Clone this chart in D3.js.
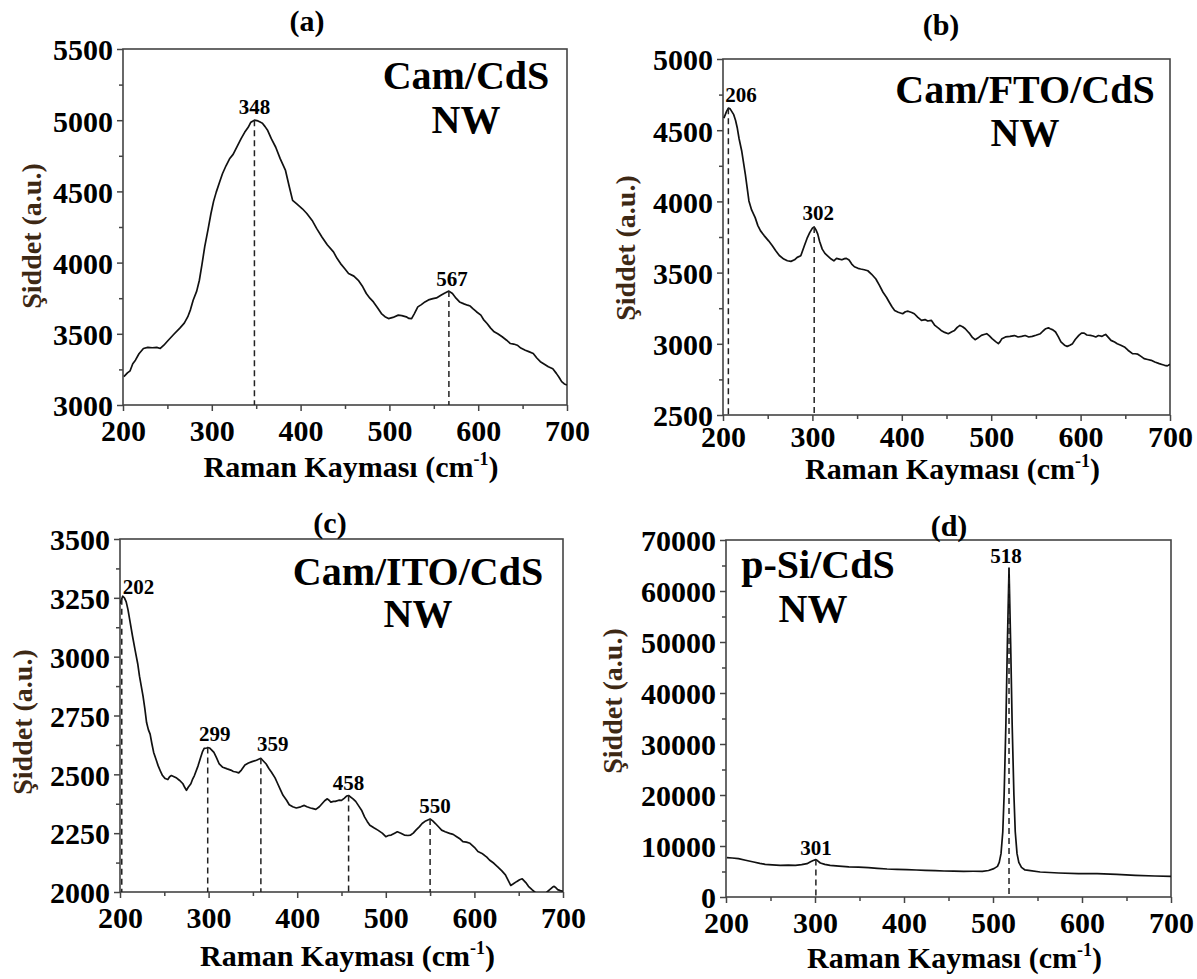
<!DOCTYPE html>
<html>
<head>
<meta charset="utf-8">
<script src="https://cdn.jsdelivr.net/npm/d3@7"></script>
<style>
  body { margin: 0; background: #fff; }
  svg text { font-family: "Liberation Serif", "Times New Roman", Times, serif; font-weight: bold; }
</style>
</head>
<body>
<svg id="fig" width="1197" height="979"></svg>
<script>
// ---------- Raman spectra (shift in cm^-1, intensity in a.u.) ----------
const shiftA = [201,205,208,211,214,218,223,228,233,238,242,246,251,257,264,269,273,276,279,283,286,289,292,296,299,302,305,309,312,316,320,324,329,333,337,341,344,348,352,355,357,360,363,367,372,377,383,387,391,396,402,407,413,418,424,430,437,441,445,450,454,460,465,470,474,478,482,487,491,495,499,504,510,514,519,522,525,528,532,536,540,544,549,553,558,562,567,571,575,579,584,588,591,594,598,603,606,610,614,618,622,627,632,636,640,644,648,653,657,662,666,670,675,679,684,688,691,694,697,700];
const intensityA = [3199,3225,3240,3290,3315,3360,3397,3405,3402,3405,3397,3420,3455,3495,3540,3575,3620,3670,3736,3800,3876,3990,4110,4240,4343,4430,4495,4570,4624,4680,4729,4760,4822,4870,4915,4950,4986,5000,4995,4985,4979,4955,4927,4870,4810,4730,4647,4540,4437,4410,4378,4345,4296,4240,4180,4125,4075,4030,3993,3955,3923,3905,3876,3830,3783,3750,3724,3680,3642,3620,3607,3615,3631,3628,3619,3608,3607,3640,3689,3705,3724,3738,3747,3752,3771,3785,3800,3783,3750,3724,3710,3701,3695,3677,3655,3631,3600,3572,3540,3514,3500,3479,3455,3432,3428,3420,3400,3385,3375,3362,3330,3304,3285,3269,3255,3222,3195,3164,3148,3140];

const shiftB = [201,204,206,208,212,214,216,218,221,225,229,232,236,239,242,246,251,255,259,263,268,272,276,280,283,287,291,294,297,300,302,304,306,308,311,314,317,321,324,327,330,333,336,338,341,344,347,351,354,358,362,366,371,375,379,383,386,389,392,396,401,404,407,411,414,418,422,426,429,433,437,441,444,448,452,456,459,462,465,468,471,474,476,479,482,485,489,492,495,498,501,505,508,510,512,516,521,526,530,534,538,542,546,550,555,558,561,564,566,569,572,575,578,582,585,588,591,594,598,601,604,607,611,614,617,620,624,626,628,631,634,638,641,645,649,653,658,661,664,668,671,675,679,683,688,691,694,697,700];
const intensityB = [4585,4632,4655,4650,4609,4570,4515,4440,4352,4189,4003,3940,3886,3830,3793,3760,3723,3690,3653,3620,3595,3583,3579,3590,3607,3618,3688,3740,3781,3812,3821,3800,3770,3720,3665,3635,3618,3595,3583,3600,3595,3590,3598,3600,3588,3560,3541,3530,3525,3520,3513,3490,3455,3410,3362,3325,3292,3260,3234,3222,3211,3225,3229,3220,3211,3185,3164,3170,3160,3165,3129,3110,3094,3080,3071,3085,3094,3115,3129,3120,3106,3085,3071,3045,3029,3040,3059,3065,3071,3055,3036,3015,3001,3015,3036,3048,3052,3058,3048,3052,3058,3048,3052,3060,3071,3090,3106,3112,3106,3098,3083,3050,3013,2990,2982,2990,3001,3030,3059,3075,3075,3062,3059,3055,3048,3058,3052,3060,3066,3045,3024,3012,3001,2990,2978,2955,2931,2930,2927,2910,2896,2890,2884,2872,2861,2855,2849,2845,2856];

const shiftC = [200,203,205,207,209,211,214,217,220,222,224,226,228,230,232,234,236,238,241,243,246,248,251,254,256,258,261,264,267,271,273,275,277,280,282,284,288,291,293,295,298,299,301,303,306,309,312,316,321,325,328,331,334,337,341,345,349,354,359,361,365,368,371,375,378,381,384,388,391,395,399,404,408,411,415,418,421,425,428,431,434,436,438,441,443,447,450,453,456,458,463,466,469,473,476,479,482,487,491,496,500,503,506,510,513,517,521,525,528,531,534,538,541,545,550,553,556,560,563,567,572,576,580,584,587,591,595,600,604,608,611,614,617,622,626,631,635,638,641,644,648,651,654,658,661,665,668,671,675,679,682,685,688,690,692,694,697,700];
const intensityC = [3225,3257,3250,3233,3200,3156,3090,3029,2970,2917,2875,2832,2780,2720,2690,2671,2630,2593,2560,2537,2510,2495,2482,2478,2490,2495,2490,2484,2475,2460,2445,2432,2445,2460,2480,2495,2535,2572,2595,2610,2612,2614,2612,2605,2593,2570,2544,2530,2523,2518,2512,2510,2506,2518,2540,2548,2554,2560,2568,2560,2544,2525,2509,2485,2460,2435,2411,2390,2371,2362,2357,2362,2368,2362,2357,2354,2351,2362,2375,2388,2396,2390,2382,2385,2385,2390,2389,2398,2408,2410,2396,2385,2368,2345,2319,2300,2284,2272,2263,2250,2235,2240,2242,2250,2256,2250,2242,2240,2242,2250,2263,2278,2291,2302,2310,2302,2291,2275,2263,2256,2249,2245,2235,2225,2214,2212,2207,2190,2172,2165,2157,2148,2136,2122,2108,2090,2073,2050,2028,2035,2045,2052,2056,2040,2024,2010,2000,1990,1985,1990,2000,2010,2020,2024,2018,2010,2006,2003];

const shiftD = [201,207,214,222,231,238,244,252,261,270,278,285,291,295,298,301,303,306,311,317,327,338,349,360,370,381,392,403,414,424,435,445,456,467,478,488,495,501,505,507,509,511,512.5,514.5,516.2,518,519.8,521.5,523.5,525,527,529,532,536,540,553,574,596,617,639,660,682,700];
const intensityD = [7720,7650,7520,7200,6870,6600,6410,6300,6210,6250,6210,6350,6540,6900,7150,7330,7100,6670,6400,6210,6050,5890,5850,5760,5620,5490,5420,5360,5290,5230,5160,5100,5060,5040,5050,5040,5200,5560,6000,6800,8500,12800,20000,34000,50000,64500,50000,34000,20000,12800,8500,6800,5800,5300,5230,4900,4710,4580,4580,4450,4250,4120,4050];

// ---------- peak positions marked with dashed drop lines ----------
const peaksA = [348, 567];
const peaksB = [206, 302];
const peaksC = [202, 299, 359, 458, 550];
const peaksD = [301, 518];

// ---------- tick values ----------
const xTicks = [200, 300, 400, 500, 600, 700];
const yTicksA = [3000, 3500, 4000, 4500, 5000, 5500];
const yTicksB = [2500, 3000, 3500, 4000, 4500, 5000];
const yTicksC = [2000, 2250, 2500, 2750, 3000, 3250, 3500];
const yTicksD = [0, 10000, 20000, 30000, 40000, 50000, 60000, 70000];

// ---------- text ----------
const panelTags = ["(a)", "(b)", "(c)", "(d)"];
const sampleNames = ["Cam/CdS", "Cam/FTO/CdS", "Cam/ITO/CdS", "p-Si/CdS"];
const xTitle = "Raman Kayması (cm";
const yTitle = "Şiddet (a.u.)";

// ---------- panel layout and label placement ----------
const panels = [
  { id: "a", shift: shiftA, inten: intensityA, peaks: peaksA, yTicks: yTicksA, yMinor: 250,
    left: 123, right: 567, top: 49, bottom: 405, tickPad: 9,
    tag: { x: 307, y: 31 }, name: { x: 466, y: 89, y2: 133 },
    xTitleY: 477, yTitle: { x: 31, y: 236 },
    labelPos: [ { dx: 0, dy: -6, anchor: "middle" }, { dx: 3, dy: -5, anchor: "middle" } ] },
  { id: "b", shift: shiftB, inten: intensityB, peaks: peaksB, yTicks: yTicksB, yMinor: 250,
    left: 723, right: 1170, top: 59, bottom: 415, tickPad: 5,
    tag: { x: 941, y: 35 }, name: { x: 1025, y: 103, y2: 146 },
    xTitleY: 479, yTitle: { x: 625, y: 248 },
    labelPos: [ { dx: -3, dy: -6, anchor: "start" }, { dx: 4, dy: -7, anchor: "middle" } ] },
  { id: "c", shift: shiftC, inten: intensityC, peaks: peaksC, yTicks: yTicksC, yMinor: 125,
    left: 120, right: 563, top: 539, bottom: 892, tickPad: 9,
    tag: { x: 330, y: 533 }, name: { x: 418, y: 585, y2: 627 },
    xTitleY: 966, yTitle: { x: 22, y: 722 },
    labelPos: [ { dx: 1, dy: -5, anchor: "start" }, { dx: 7, dy: -7, anchor: "middle" },
                { dx: 12, dy: -7, anchor: "middle" }, { dx: 0, dy: -6, anchor: "middle" },
                { dx: 5, dy: -6, anchor: "middle" } ] },
  { id: "d", shift: shiftD, inten: intensityD, peaks: peaksD, yTicks: yTicksD, yMinor: 5000,
    left: 726, right: 1171, top: 540, bottom: 897, tickPad: 9,
    tag: { x: 949, y: 536 }, name: { x: 818, y: 578, y2: 622, nwX: 813 },
    xTitleY: 968, yTitle: { x: 612, y: 701 },
    labelPos: [ { dx: 0, dy: -5, anchor: "middle" }, { dx: -3, dy: -5, anchor: "middle" } ] }
];

const svg = d3.select("#fig");
const ink = "#111";

panels.forEach((p, i) => {
  const x = d3.scaleLinear().domain([200, 700]).range([p.left, p.right]);
  const yDom = d3.extent(p.yTicks);
  const y = d3.scaleLinear().domain(yDom).range([p.bottom, p.top]);
  const g = svg.append("g");

  // clip region for the spectrum
  svg.append("clipPath").attr("id", "clip-" + p.id)
    .append("rect").attr("x", p.left).attr("y", p.top)
    .attr("width", p.right - p.left).attr("height", p.bottom - p.top);

  // minor ticks
  g.append("g").attr("transform", `translate(0,${p.bottom})`)
    .call(d3.axisBottom(x).tickValues(d3.range(250, 700, 100)).tickSize(4).tickFormat(""))
    .call(s => s.select(".domain").remove());
  g.append("g").attr("transform", `translate(${p.left},0)`)
    .call(d3.axisLeft(y).tickValues(d3.range(yDom[0] + p.yMinor, yDom[1], p.yMinor * 2)).tickSize(4).tickFormat(""))
    .call(s => s.select(".domain").remove());

  // major ticks with labels
  const xa = g.append("g").attr("transform", `translate(0,${p.bottom})`)
    .call(d3.axisBottom(x).tickValues(xTicks).tickSize(6).tickPadding(p.tickPad).tickFormat(d3.format("d")));
  xa.select(".domain").remove();
  xa.selectAll("text").attr("font-size", 30).attr("fill", "#000");

  const ya = g.append("g").attr("transform", `translate(${p.left},0)`)
    .call(d3.axisLeft(y).tickValues(p.yTicks).tickSize(6).tickPadding(4).tickFormat(d3.format("d")));
  ya.select(".domain").remove();
  ya.selectAll("text").attr("font-size", 30).attr("fill", "#000").attr("dy", "0.36em");

  g.selectAll(".tick line").attr("stroke", "#444").attr("stroke-width", 1.5);

  // frame
  g.append("rect").attr("x", p.left).attr("y", p.top)
    .attr("width", p.right - p.left).attr("height", p.bottom - p.top)
    .attr("fill", "none").attr("stroke", "#444").attr("stroke-width", 1.6);

  // spectrum
  const pts = p.shift.map((s, k) => [s, p.inten[k]]);
  const line = d3.line().x(d => x(d[0])).y(d => y(d[1]));
  g.append("path").datum(pts).attr("clip-path", `url(#clip-${p.id})`)
    .attr("d", line).attr("fill", "none").attr("stroke", ink)
    .attr("stroke-width", 1.7).attr("stroke-linejoin", "round");

  // intensity of the spectrum at a given shift
  const interp = s => {
    const j = d3.bisectLeft(p.shift, s);
    if (j <= 0) return p.inten[0];
    if (j >= p.shift.length) return p.inten[p.shift.length - 1];
    const s0 = p.shift[j - 1], s1 = p.shift[j];
    const t = (s - s0) / (s1 - s0);
    return p.inten[j - 1] + t * (p.inten[j] - p.inten[j - 1]);
  };

  // dashed drop lines and peak labels
  p.peaks.forEach((pk, k) => {
    const py = y(interp(pk));
    g.append("line").attr("x1", x(pk)).attr("x2", x(pk))
      .attr("y1", py).attr("y2", p.bottom)
      .attr("stroke", "#222").attr("stroke-width", 1.5).attr("stroke-dasharray", "6,4");
    const lp = p.labelPos[k];
    g.append("text").attr("x", x(pk) + lp.dx).attr("y", py + lp.dy)
      .attr("text-anchor", lp.anchor).attr("font-size", 21).attr("fill", "#000").text(pk);
  });

  // panel tag
  g.append("text").attr("x", p.tag.x).attr("y", p.tag.y).attr("text-anchor", "middle")
    .attr("font-size", 30).attr("fill", "#000").text(panelTags[i]);

  // sample name
  g.append("text").attr("x", p.name.x).attr("y", p.name.y).attr("text-anchor", "middle")
    .attr("font-size", 40).attr("fill", "#000").text(sampleNames[i]);
  g.append("text").attr("x", p.name.nwX || p.name.x).attr("y", p.name.y2).attr("text-anchor", "middle")
    .attr("font-size", 40).attr("fill", "#000").text("NW");

  // x-axis title with superscript
  const xt = g.append("text").attr("x", (p.left + p.right) / 2 + 6).attr("y", p.xTitleY)
    .attr("text-anchor", "middle").attr("font-size", 30).attr("fill", "#000");
  xt.append("tspan").text(xTitle);
  xt.append("tspan").attr("font-size", 18).attr("dy", -12).text("-1");
  xt.append("tspan").attr("dy", 12).text(")");

  // y-axis title
  g.append("text").attr("transform", `translate(${p.yTitle.x},${p.yTitle.y}) rotate(-90)`)
    .attr("text-anchor", "middle").attr("dy", "0.35em").attr("font-size", 28)
    .attr("fill", "#3d2814").text(yTitle);
});
</script>
</body>
</html>
